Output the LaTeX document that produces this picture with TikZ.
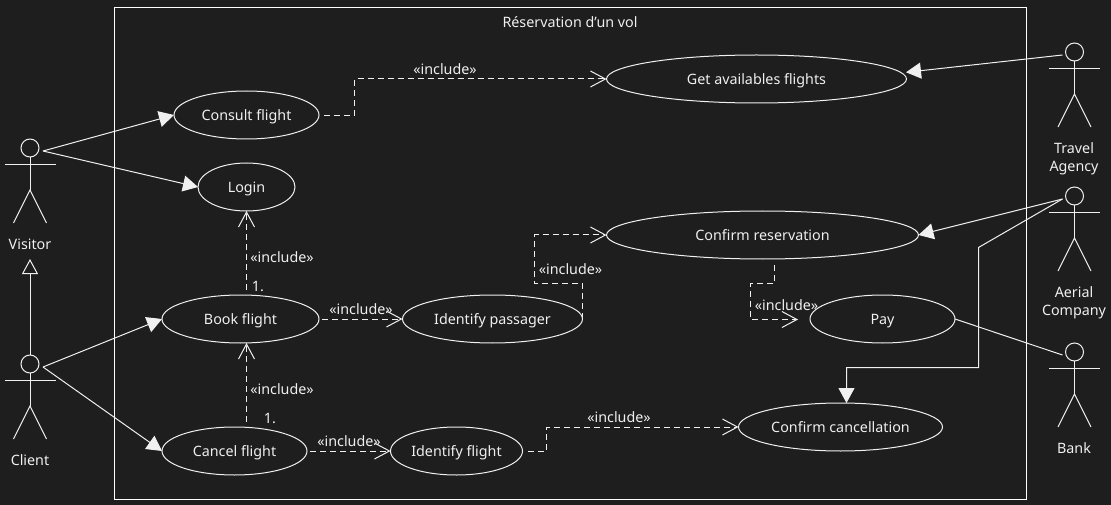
\documentclass[tikz,border=0pt]{standalone}
\usepackage{fontspec}
\setmainfont{Noto Sans}
\usetikzlibrary{arrows.meta,shapes.geometric}
\definecolor{bgdark}{HTML}{1E1E1E}
\definecolor{linelight}{HTML}{F0F0F0}
\tikzset{
  usecase/.style={draw=linelight,ellipse,inner sep=0pt,outer sep=0pt,minimum height=48pt,text=linelight,text height=13pt,text depth=1.5pt},
  lbl/.style={inner sep=0.75pt,text=linelight,align=center},
  assoc/.style={draw=linelight,-{Triangle[length=15pt,width=16pt,fill=linelight]}},
  incl/.style={draw=linelight,dash pattern=on 6pt off 4pt,-{Straight Barb[length=15pt,width=16pt,line width=1pt,sep=0pt]}},
}
\begin{document}
\begin{tikzpicture}[x=1pt,y=1pt,yscale=-1,line width=1pt,font=\fontsize{14.3}{18}\selectfont]
\fill [bgdark] (0,0) rectangle (1111,505);
\useasboundingbox (0,0) rectangle (1111,505);
\draw [white] (114.5,7.5) rectangle (1026.5,499.5);
%Use cases
\draw (756.5,79) node [usecase,minimum width=300pt] (getflights) {Get availables flights};
\draw (246.5,115) node [usecase,minimum width=145pt] (consult) {Consult flight};
\draw (246.5,187) node [usecase,minimum width=97pt] (login) {Login};
\draw (762.5,235) node [usecase,minimum width=312pt] (confirmres) {Confirm reservation};
\draw (240.5,319) node [usecase,minimum width=157pt] (book) {Book flight};
\draw (492.5,319) node [usecase,minimum width=180pt] (passager) {Identify passager};
\draw (882.5,319) node [usecase,minimum width=145pt] (pay) {Pay};
\draw (234.5,451) node [usecase,minimum width=145pt] (cancel) {Cancel flight};
\draw (456.5,451) node [usecase,minimum width=132pt] (identflight) {Identify flight};
\draw (840.5,427) node [usecase,minimum width=204pt] (confirmcancel) {Confirm cancellation};
%Actors
\foreach \nm/\ax/\ay/\side in {visitor/30/148/13,client/30/364/13,travel/1074.5/52/-12,aerial/1074.5/196/-12,bank/1074.5/352/-12}{
  \draw (\ax,\ay) node [circle,draw=linelight,inner sep=0pt,outer sep=0pt,minimum size=18pt] (\nm) {};
  \coordinate (\nm-port) at (\ax+\side,\ay+3);
  \draw [linelight] (\nm.south) -- (\ax,\ay+42) ;
  \draw [linelight] (\ax-25.5,\ay+16.5) -- (\ax+25.5,\ay+16.5) ;
  \draw [linelight] (\ax-16.5,\ay+75) -- (\ax,\ay+42) -- (\ax+16.5,\ay+75) ;
}
%Solid links
\draw [assoc] (visitor-port) -- (consult.west) ;
\draw [assoc] (visitor-port) -- (login.west) ;
\draw [assoc] (client-port) -- (book.west) ;
\draw [assoc] (client-port) -- (cancel.west) ;
\coordinate (gentip) at (30,259);
\draw [draw=linelight,-{Triangle[open,length=15pt,width=16pt]}] (client.north) -- (gentip) ;
\coordinate (gettip) at (906,72.3);
\draw [assoc] (travel-port) -- (gettip) ;
\draw [assoc] (aerial-port) -- (confirmres.east) ;
\draw [assoc] (aerial-port) -- (978.5,247.5) -- (978.5,367.5) -- (846.5,367.5) -- (846.5,403) ;
\draw [linelight] (pay.east) -- (bank-port) ;
%Include links
\draw [incl] (324,115.5) -- (354.5,115.5) -- (354.5,79) -- (getflights.west) ;
\draw [incl] (246.5,290) -- (login.south) ;
\draw [incl] (246.5,422) -- (246.5,343) ;
\draw [incl] (322,319) -- (passager.west) ;
\draw [incl] (310,451) -- (identflight.west) ;
\draw [incl] (passager.east) -- (582.5,283.5) -- (534.5,283.5) -- (534.5,235) -- (confirmres.west) ;
\draw [incl] (528,451) -- (546.5,451) -- (546.5,427) -- (confirmcancel.west) ;
\draw [incl] (774.5,265) -- (774.5,283.5) -- (750.5,283.5) -- (750.5,319.5) -- (798,319.5) ;
%Text
\draw (570,22) node [lbl] (title) {Réservation d'un vol};
\draw (30,244) node [lbl] (visitorlbl) {Visitor};
\draw (30,460) node [lbl] (clientlbl) {Client};
\draw (1074,159) node [lbl] (travellbl) {Travel\\Agency};
\draw (1074,303) node [lbl] (aeriallbl) {Aerial\\Company};
\draw (1074,448) node [lbl] (banklbl) {Bank};
\draw (445,69) node [lbl] (inc1) {«include»};
\draw (282,257) node [lbl] (inc2) {«include»};
\draw (282,389) node [lbl] (inc3) {«include»};
\draw (361,309) node [lbl] (inc4) {«include»};
\draw (349,441) node [lbl] (inc5) {«include»};
\draw (570.5,269) node [lbl] (inc6) {«include»};
\draw (619,417) node [lbl] (inc7) {«include»};
\draw (786.5,305) node [lbl] (inc8) {«include»};
\draw (258,286) node [lbl] (num1) {1.};
\draw (270,418) node [lbl] (num2) {1.};
\end{tikzpicture}
\end{document}
